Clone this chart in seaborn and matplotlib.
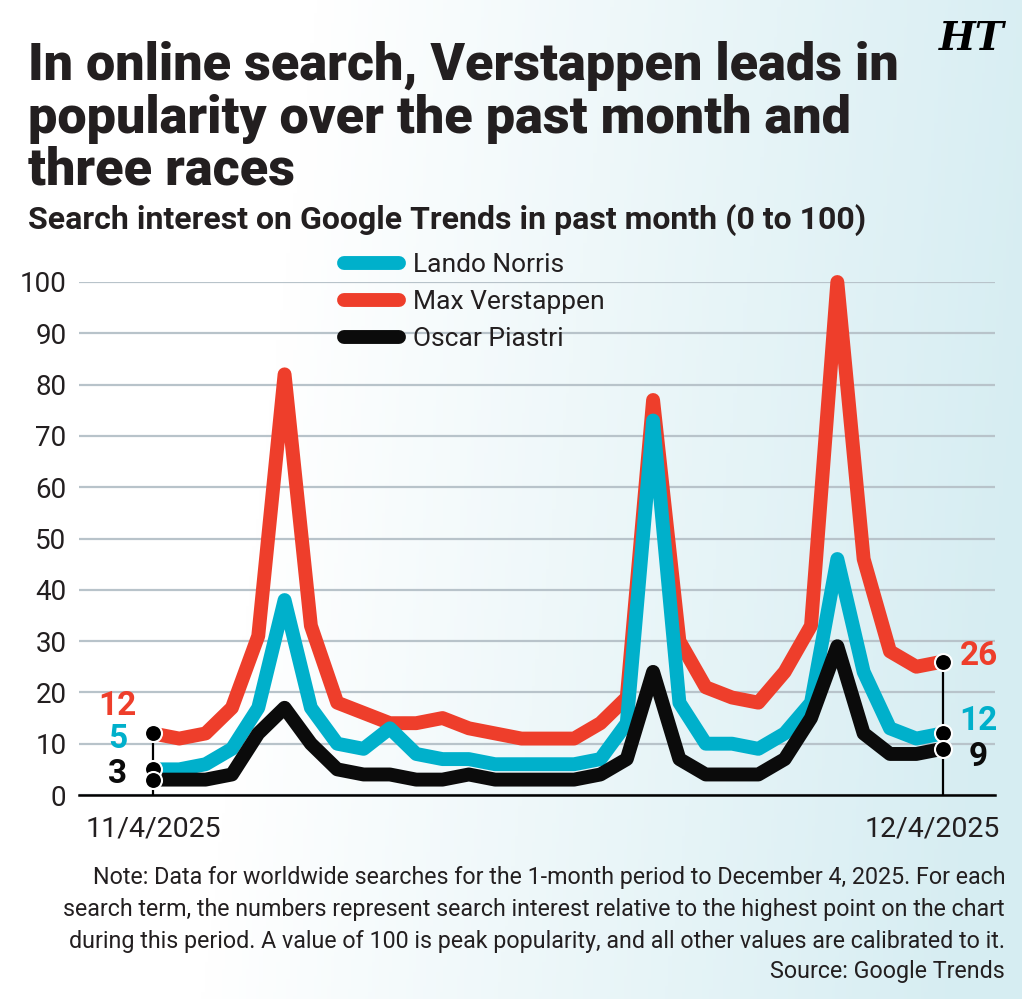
import numpy as np
import pandas as pd
import matplotlib
matplotlib.use("Agg")
import matplotlib.pyplot as plt
from matplotlib import font_manager
from matplotlib.lines import Line2D
from matplotlib.colors import LinearSegmentedColormap
from matplotlib.transforms import ScaledTranslation
import seaborn as sns

# --- data ---
dates = pd.date_range("2025-11-04", "2025-12-04", freq="D")
norris = [5, 5, 6, 9, 17, 38, 17, 10, 9, 13, 8, 7, 7, 6, 6, 6, 6, 7, 14, 73,
          18, 10, 10, 9, 12, 18, 46, 24, 13, 11, 12]
verstappen = [12, 11, 12, 17, 31, 82, 33, 18, 16, 14, 14, 15, 13, 12, 11, 11, 11, 14, 19, 77,
              30, 21, 19, 18, 24, 33, 100, 46, 28, 25, 26]
piastri = [3, 3, 3, 4, 12, 17, 10, 5, 4, 4, 3, 3, 4, 3, 3, 3, 3, 4, 7, 24,
           7, 4, 4, 4, 7, 15, 29, 12, 8, 8, 9]
drivers = ["Lando Norris", "Max Verstappen", "Oscar Piastri"]
yticks = list(range(0, 101, 10))

COLORS = {"Lando Norris": "#00b0cb", "Max Verstappen": "#ee3e2b", "Oscar Piastri": "#0b0b0b"}
TXT = "#231f20"

df = pd.DataFrame({"date": dates, "Lando Norris": norris,
                   "Max Verstappen": verstappen, "Oscar Piastri": piastri})
long = df.melt(id_vars="date", var_name="driver", value_name="interest")

sns.set_theme(style="white")
names = set(font_manager.get_font_names())
NARROW = "Liberation Sans Narrow" if "Liberation Sans Narrow" in names else "Roboto"
plt.rcParams["font.family"] = [NARROW, "DejaVu Sans"]

W, H = 1022, 999
fig = plt.figure(figsize=(W / 100, H / 100), dpi=100)

# background gradient
bg = fig.add_axes([0, 0, 1, 1], zorder=-5)
gx = np.linspace(0, 1, 300)
gy = np.linspace(0, 1, 300)
GX, GY = np.meshgrid(gx, gy)
grad = np.clip((GX - 0.25) / 0.75 + 0.15 * (GY - 0.5), 0, 1)
cmap = LinearSegmentedColormap.from_list("bg", ["#ffffff", "#d6edf2"])
bg.imshow(grad, cmap=cmap, aspect="auto", extent=[0, 1, 0, 1], origin="upper")
bg.axis("off")


def px(x, y):
    return x / W, 1 - y / H


ax = fig.add_axes([79 / W, 1 - 795 / H, (995 - 79) / W, (795 - 282) / H])
ax.set_facecolor("none")

# draw order: red under cyan under black
for name in ["Max Verstappen", "Lando Norris", "Oscar Piastri"]:
    sub = long[long["driver"] == name]
    sns.lineplot(data=sub, x="date", y="interest", ax=ax, color=COLORS[name],
                 lw=10, solid_joinstyle="round", solid_capstyle="butt",
                 legend=False, clip_on=False, zorder=3)

day = pd.Timedelta(days=1)
ax.set_xlim(dates[0] - 2.81 * day, dates[-1] + 1.99 * day)
ax.set_ylim(0, 100)

# end connectors and dots
ends = [dates[0], dates[-1]]
for i, d in zip([0, -1], ends):
    vals = [df[n].iloc[i] for n in drivers]
    ax.vlines(d, 0, max(vals), color="black", lw=1.6, zorder=4, clip_on=False)
    for n in ["Max Verstappen", "Lando Norris", "Oscar Piastri"]:
        ax.scatter([d], [df[n].iloc[i]], s=150, color="black", edgecolor="white",
                   linewidth=1.5, zorder=5, clip_on=False)

# end labels
left_off = {"Max Verstappen": (-36, 27), "Lando Norris": (-35, 30), "Oscar Piastri": (-35, 6)}
right_off = {"Max Verstappen": (36, 6), "Lando Norris": (36, 12), "Oscar Piastri": (36, -8)}
for n in drivers:
    ax.annotate(str(df[n].iloc[0]), (dates[0], df[n].iloc[0]), xytext=left_off[n],
                textcoords="offset pixels", ha="center", va="center", fontsize=24,
                fontweight="bold", color=COLORS[n], zorder=6, annotation_clip=False)
    ax.annotate(str(df[n].iloc[-1]), (dates[-1], df[n].iloc[-1]), xytext=right_off[n],
                textcoords="offset pixels", ha="center", va="center", fontsize=24,
                fontweight="bold", color=COLORS[n], zorder=6, annotation_clip=False)

# axes styling
ax.set_yticks(yticks)
ax.set_yticklabels([str(v) for v in yticks])
ax.grid(axis="y", color="#b8c3ca", lw=1.6, zorder=0)
ax.grid(axis="x", visible=False)
for s in ["top", "right", "left"]:
    ax.spines[s].set_visible(False)
ax.spines["bottom"].set_color("black")
ax.spines["bottom"].set_linewidth(1.8)
ax.spines["bottom"].set_zorder(2)
ax.tick_params(axis="y", length=0, pad=9, labelsize=20, labelcolor=TXT)
ax.set_xticks(ends)
ax.set_xticklabels([f"{d.month}/{d.day}/{d.year}" for d in ends])
ax.tick_params(axis="x", length=9, width=1.5, color="black", direction="out",
               pad=6, labelsize=20.5, labelcolor=TXT)
ax.set_xlabel("")
ax.set_ylabel("")
last = ax.get_xticklabels()[-1]
last.set_transform(last.get_transform() + ScaledTranslation(-0.1, 0, fig.dpi_scale_trans))

# legend
handles = [Line2D([0], [0], color=COLORS[n], lw=10, solid_capstyle="round") for n in drivers]
leg = ax.legend(handles, drivers, loc="upper left", bbox_to_anchor=px(344, 253),
                bbox_transform=fig.transFigure, frameon=False, fontsize=19,
                handlelength=2.1, handletextpad=0.5, labelspacing=0.5, borderpad=0,
                borderaxespad=0)
for t in leg.get_texts():
    t.set_color(TXT)

renderer = fig.canvas.get_renderer()


def fit(x, y, s, width, size, **kw):
    t = fig.text(*px(x, y), s, fontsize=size, **kw)
    w = t.get_window_extent(renderer).width
    t.set_fontsize(size * width / w)
    return t


# title
t1 = fit(28, 80, "In online search, Verstappen leads in", 869, 40,
         fontweight=900, color=TXT, va="baseline", ha="left")
fs = t1.get_fontsize()
fig.text(*px(28, 133), "popularity over the past month and", fontsize=fs,
         fontweight=900, color=TXT, va="baseline", ha="left")
fig.text(*px(28, 185), "three races", fontsize=fs,
         fontweight=900, color=TXT, va="baseline", ha="left")
fit(28, 229, "Search interest on Google Trends in past month (0 to 100)", 838, 24,
    fontweight="bold", color=TXT, va="baseline", ha="left")

fig.text(*px(1005, 50), "HT", fontsize=28, fontweight="bold", fontstyle="italic",
         family="DejaVu Serif", color="black", ha="right", va="baseline")

# notes
notes = ["Note: Data for worldwide searches for the 1-month period to December 4, 2025. For each",
         "search term, the numbers represent search interest relative to the highest point on the chart",
         "during this period. A value of 100 is peak popularity, and all other values are calibrated to it.",
         "Source: Google Trends"]
n1 = fit(1005, 884, notes[0], 917, 17, color=TXT, va="baseline", ha="right")
nfs = n1.get_fontsize()
for txt, yb in zip(notes[1:], [916, 948, 978]):
    fig.text(*px(1005, yb), txt, fontsize=nfs, color=TXT, va="baseline", ha="right")

fig.savefig("out.png", dpi=100)
